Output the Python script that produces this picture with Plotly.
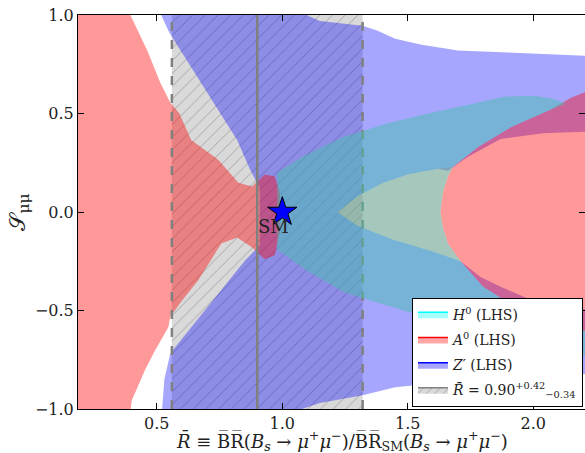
import plotly.graph_objects as go

# ---------------- data ----------------
# measured band  R = 0.90 (+0.42, -0.34)
r_central = 0.90
r_lo = 0.56
r_hi = 1.32

# Z' (LHS) region outline
zp_x = [0.51, 1.06, 1.15, 1.32, 1.38, 1.45, 1.55, 1.70, 1.90, 2.10, 2.25,
        2.25, 2.04, 1.87, 1.74, 1.66, 1.62, 1.50, 1.40, 1.30, 1.22, 1.30, 1.44, 1.60, 1.71,
        1.79, 1.87, 2.00, 2.10, 2.25,
        2.25, 2.00, 1.80, 1.60, 1.45, 1.32, 1.15, 1.03, 0.52,
        0.53, 0.554, 0.853, 0.91, 0.91, 0.87, 0.82, 0.55]
zp_y = [1.02, 1.02, 0.97, 0.945, 0.92, 0.88, 0.85, 0.82, 0.81, 0.80, 0.79,
        0.41, 0.40, 0.37, 0.28, 0.21, 0.22, 0.19, 0.147, 0.08, 0.0, -0.07, -0.14, -0.20, -0.25,
        -0.33, -0.38, -0.45, -0.48, -0.50,
        -0.82, -0.83, -0.85, -0.87, -0.89, -0.93, -0.97, -1.02, -1.02,
        -0.85, -0.717, -0.244, -0.17, 0.12, 0.22, 0.366, 0.91]

# A0 (LHS) left region + wedge to SM point
a0l_x = [0.10, 0.387, 0.462, 0.514, 0.554, 0.59, 0.637, 0.745, 0.825, 0.88, 0.93, 0.97, 0.99,
         0.99, 0.97, 0.93, 0.88, 0.82, 0.757, 0.665, 0.60, 0.554, 0.546, 0.494, 0.454, 0.40,
         0.394, 0.10]
a0l_y = [1.02, 1.02, 0.82, 0.656, 0.555, 0.50, 0.366, 0.265, 0.148, 0.13, 0.19, 0.18, 0.10,
         -0.10, -0.22, -0.24, -0.18, -0.13, -0.16, -0.346, -0.45, -0.53, -0.585, -0.70, -0.80, -0.957,
         -1.02, -1.02]

# A0 (LHS) right region
a0r_x = [1.68, 1.78, 1.91, 2.07, 2.15, 2.25, 2.25, 2.05, 1.90, 1.80, 1.71, 1.66, 1.64, 1.63,
         1.64, 1.66]
a0r_y = [0.23, 0.33, 0.43, 0.52, 0.58, 0.63, -0.62, -0.55, -0.46, -0.38, -0.25, -0.16, -0.08, 0.0,
         0.10, 0.18]

# A0 (LHS) sparse tongue inside the H0 region
a0t_x = [1.22, 1.30, 1.40, 1.50, 1.62, 1.68, 1.66, 1.64, 1.63, 1.64, 1.66, 1.71, 1.60, 1.44, 1.30]
a0t_y = [0.0, 0.08, 0.147, 0.19, 0.22, 0.23, 0.18, 0.10, 0.0, -0.08, -0.16, -0.25, -0.20, -0.14, -0.07]

# H0 (LHS) region outline
h0_x = [0.98, 0.98, 1.08, 1.24, 1.42, 1.58, 1.76, 1.88, 2.00, 2.08, 2.13,
        2.07, 1.91, 1.78, 1.68, 1.66, 1.64, 1.63, 1.64, 1.66, 1.71,
        1.80, 1.90, 2.05, 2.25,
        2.25, 2.00, 1.80, 1.62, 1.51, 1.25, 1.10, 0.98]
h0_y = [0.0, 0.20, 0.28, 0.38, 0.45, 0.50, 0.55, 0.585, 0.59, 0.575, 0.55,
        0.52, 0.43, 0.33, 0.23, 0.18, 0.10, 0.0, -0.08, -0.16, -0.25,
        -0.38, -0.46, -0.55, -0.62,
        -0.74, -0.68, -0.62, -0.55, -0.51, -0.41, -0.30, -0.19]

sm_x = [1.0]
sm_y = [0.0]

x_ticks = [0.5, 1.0, 1.5, 2.0]
y_ticks = [-1.0, -0.5, 0.0, 0.5, 1.0]

# ---------------- figure ----------------
FONT = "DejaVu Serif"
TXT = "#222222"
fig = go.Figure()

# hatched experimental band
fig.add_trace(go.Scatter(
    x=[r_lo, r_hi, r_hi, r_lo, r_lo], y=[-1.05, -1.05, 1.05, 1.05, -1.05],
    mode="lines", fill="toself", line=dict(width=0),
    fillcolor="#d9d9d9",
    fillpattern=dict(shape="/", bgcolor="#d9d9d9", fgcolor="#6a6a6a", size=9, solidity=0.1),
    showlegend=False, hoverinfo="skip"))

# Z'
fig.add_trace(go.Scatter(x=zp_x, y=zp_y, mode="lines", fill="toself",
                         fillcolor="rgba(0,0,255,0.35)", line=dict(width=0),
                         showlegend=False, hoverinfo="skip"))
# A0
fig.add_trace(go.Scatter(x=a0l_x, y=a0l_y, mode="lines", fill="toself",
                         fillcolor="rgba(255,0,0,0.40)", line=dict(width=0),
                         showlegend=False, hoverinfo="skip"))
fig.add_trace(go.Scatter(x=a0r_x, y=a0r_y, mode="lines", fill="toself",
                         fillcolor="rgba(255,0,0,0.40)", line=dict(width=0),
                         showlegend=False, hoverinfo="skip"))
fig.add_trace(go.Scatter(x=a0t_x, y=a0t_y, mode="lines", fill="toself",
                         fillcolor="rgba(255,0,0,0.20)", line=dict(width=0),
                         showlegend=False, hoverinfo="skip"))

# band lines
for xv, dash in [(r_lo, "dash"), (r_central, "solid"), (r_hi, "dash")]:
    fig.add_trace(go.Scatter(x=[xv, xv], y=[-1, 1], mode="lines",
                             line=dict(color="#808080", width=2.5, dash=dash),
                             showlegend=False, hoverinfo="skip"))

# H0
fig.add_trace(go.Scatter(x=h0_x, y=h0_y, mode="lines", fill="toself",
                         fillcolor="rgba(70,195,170,0.48)", line=dict(width=0),
                         showlegend=False, hoverinfo="skip"))

# SM point
fig.add_trace(go.Scatter(x=sm_x, y=sm_y, mode="markers",
                         marker=dict(symbol="star", size=22, color="#0000ff",
                                     line=dict(color="black", width=1)),
                         showlegend=False, hoverinfo="skip"))
fig.add_annotation(x=0.965, y=-0.075, text="SM", showarrow=False,
                   font=dict(family=FONT, size=18, color=TXT))

# legend entries
legend_items = [
    ("<i>H</i><sup>0</sup> (LHS)", "rgba(0,255,255,0.35)", "#00ffff", None, 1),
    ("<i>A</i><sup>0</sup> (LHS)", "rgba(255,0,0,0.35)", "#ff0000", None, 2),
    ("<i>Z</i>′ (LHS)", "rgba(0,0,255,0.35)", "#0000ff", None, 3),
    ("<i>R̄</i> = 0.90<sup>+0.42</sup><sub>−0.34</sub>", "#d9d9d9", "#808080", "/", 4),
]
for name, fc, lc, pat, rank in legend_items:
    kw = {}
    if pat:
        kw["fillpattern"] = dict(shape=pat, bgcolor="#d9d9d9", fgcolor="#707070", size=6, solidity=0.15)
    fig.add_trace(go.Scatter(x=[None], y=[None], mode="lines", fill="toself",
                             fillcolor=fc, line=dict(color=lc, width=1.5),
                             name=name, legendrank=rank, legendgroup=f"g{rank}", **kw))

xtitle = ("<i>R̄</i> ≡ B̅R̅(<i>B<sub>s</sub></i> → <i>μ</i><sup>+</sup><i>μ</i><sup>−</sup>)/"
          "B̅R̅<sub>SM</sub>(<i>B<sub>s</sub></i> → <i>μ</i><sup>+</sup><i>μ</i><sup>−</sup>)")
fig.add_annotation(xref="paper", yref="paper", x=0.521, y=-0.08, xanchor="center",
                   yanchor="middle", text=xtitle, showarrow=False,
                   font=dict(family=FONT, size=18, color=TXT))

axis_common = dict(showline=True, linecolor="black", linewidth=1, mirror="ticks",
                   ticks="inside", ticklen=6, tickcolor="black", showgrid=False,
                   zeroline=False, tickfont=dict(family=FONT, size=16, color=TXT))

fig.update_layout(
    width=585, height=453,
    margin=dict(l=78, r=0, t=15, b=44),
    paper_bgcolor="white", plot_bgcolor="white",
    font=dict(family=FONT, color=TXT),
    xaxis=dict(range=[0.186, 2.206], tickvals=x_ticks, ticktext=[f"{v:.1f}" for v in x_ticks],
               **axis_common),
    yaxis=dict(range=[-1, 1], tickvals=y_ticks, ticktext=[f"{v:.1f}".replace("-", "−") for v in y_ticks],
               title=dict(text="𝒮<sub>μμ</sub>", font=dict(family=FONT, size=22), standoff=3),
               **axis_common),
    legend=dict(x=0.996, y=0.006, xanchor="right", yanchor="bottom",
                bgcolor="white", bordercolor="black", borderwidth=1,
                font=dict(family=FONT, size=14, color=TXT),
                traceorder="grouped", itemwidth=30, tracegroupgap=4),
)

fig.write_html("out.html")
